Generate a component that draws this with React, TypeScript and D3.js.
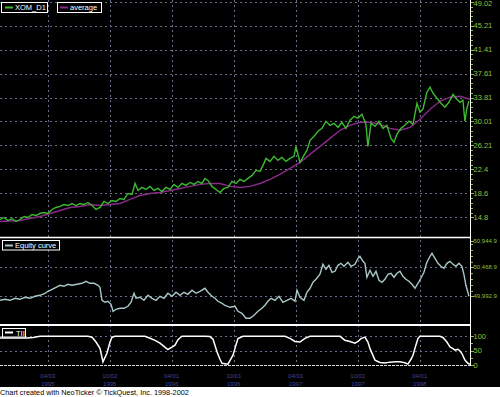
import React from 'react';
import * as d3 from 'd3';

// x values are decimal years
const priceData: [number, number][] = [
  [1994.867, 14.45], [1994.899, 14.77], [1994.931, 14.29], [1994.964, 14.61], [1994.996, 14.13],
  [1995.028, 14.45], [1995.060, 14.93], [1995.092, 14.77], [1995.125, 15.24], [1995.157, 15.08],
  [1995.189, 15.40], [1995.221, 15.56], [1995.253, 15.40], [1995.286, 16.04], [1995.318, 16.36],
  [1995.350, 16.52], [1995.382, 16.83], [1995.414, 16.67], [1995.447, 16.99], [1995.479, 16.67],
  [1995.511, 16.99], [1995.543, 16.83], [1995.575, 17.15], [1995.608, 16.67], [1995.640, 16.04],
  [1995.672, 16.36], [1995.704, 17.31], [1995.736, 16.99], [1995.769, 17.47], [1995.801, 17.31],
  [1995.833, 17.79], [1995.865, 17.63], [1995.897, 18.58], [1995.930, 18.42], [1995.954, 20.17],
  [1995.978, 19.06], [1996.010, 19.54], [1996.042, 19.22], [1996.075, 19.70], [1996.107, 19.06],
  [1996.139, 19.38], [1996.171, 18.90], [1996.203, 19.54], [1996.236, 19.22], [1996.268, 20.02],
  [1996.300, 19.54], [1996.332, 20.17], [1996.364, 19.86], [1996.397, 20.33], [1996.429, 20.02],
  [1996.461, 20.49], [1996.493, 20.17], [1996.517, 20.97], [1996.541, 20.65], [1996.574, 19.70],
  [1996.606, 19.22], [1996.638, 18.74], [1996.670, 19.38], [1996.702, 19.54], [1996.735, 20.49],
  [1996.767, 20.17], [1996.799, 20.81], [1996.831, 20.49], [1996.863, 20.97], [1996.896, 21.45],
  [1996.928, 22.24], [1996.960, 22.08], [1996.992, 23.36], [1997.008, 24.15], [1997.041, 23.67],
  [1997.073, 24.47], [1997.105, 23.83], [1997.137, 24.31], [1997.169, 23.67], [1997.202, 24.15],
  [1997.234, 24.47], [1997.250, 26.06], [1997.282, 23.52], [1997.314, 24.63], [1997.338, 25.42],
  [1997.363, 27.02], [1997.395, 27.65], [1997.427, 28.45], [1997.459, 28.92], [1997.491, 30.04],
  [1997.524, 29.40], [1997.556, 29.72], [1997.588, 29.08], [1997.620, 29.88], [1997.652, 28.92],
  [1997.685, 30.20], [1997.717, 30.83], [1997.749, 30.52], [1997.781, 31.15], [1997.813, 29.56],
  [1997.829, 26.06], [1997.854, 29.72], [1997.886, 29.24], [1997.918, 30.04], [1997.950, 28.92],
  [1997.982, 29.40], [1998.015, 27.33], [1998.039, 26.70], [1998.063, 27.97], [1998.095, 28.92],
  [1998.127, 29.40], [1998.159, 30.04], [1998.192, 29.56], [1998.224, 32.90], [1998.248, 31.47],
  [1998.272, 31.95], [1998.304, 34.65], [1998.329, 35.45], [1998.353, 34.49], [1998.385, 33.70],
  [1998.417, 32.90], [1998.449, 32.27], [1998.481, 33.06], [1998.514, 34.33], [1998.546, 33.54],
  [1998.570, 33.06], [1998.594, 33.38], [1998.610, 30.04], [1998.626, 32.11], [1998.642, 33.22],
];

const averageData: [number, number][] = [
  [1994.867, 14.13], [1995.028, 14.29], [1995.189, 14.93], [1995.270, 15.40], [1995.350, 15.88],
  [1995.431, 16.36], [1995.511, 16.52], [1995.592, 16.83], [1995.672, 16.67], [1995.753, 16.83],
  [1995.833, 16.99], [1995.914, 17.63], [1995.994, 18.26], [1996.075, 18.58], [1996.155, 18.74],
  [1996.236, 19.06], [1996.316, 19.38], [1996.397, 19.70], [1996.477, 20.02], [1996.558, 20.17],
  [1996.638, 20.17], [1996.719, 19.70], [1996.799, 19.54], [1996.880, 19.70], [1996.960, 20.17],
  [1997.041, 20.81], [1997.121, 21.61], [1997.202, 22.56], [1997.283, 23.52], [1997.363, 24.79],
  [1997.444, 26.06], [1997.524, 27.33], [1997.605, 28.61], [1997.685, 29.40], [1997.766, 29.88],
  [1997.846, 29.88], [1997.927, 29.56], [1998.007, 28.92], [1998.088, 28.61], [1998.168, 29.08],
  [1998.249, 30.36], [1998.329, 31.95], [1998.410, 33.22], [1998.490, 33.86], [1998.571, 34.02],
  [1998.651, 33.54],
];

const equityData: [number, number][] = [
  [1994.867, 49927.5], [1994.907, 49943.9], [1994.948, 49927.5], [1994.988, 49960.3], [1995.028, 49943.9],
  [1995.068, 49976.7], [1995.109, 49960.3], [1995.149, 49993.1], [1995.189, 50009.5], [1995.229, 50042.4],
  [1995.253, 50075.2], [1995.286, 50108.0], [1995.318, 50140.8], [1995.350, 50173.6], [1995.382, 50157.2],
  [1995.414, 50190.1], [1995.447, 50173.6], [1995.487, 50190.1], [1995.527, 50206.5], [1995.559, 50239.3],
  [1995.592, 50206.5], [1995.624, 50206.5], [1995.656, 50173.6], [1995.672, 50140.8], [1995.688, 49927.5],
  [1995.712, 49894.7], [1995.736, 49911.1], [1995.761, 49861.9], [1995.777, 49747.0], [1995.801, 49779.8],
  [1995.833, 49796.2], [1995.865, 49796.2], [1995.897, 49829.0], [1995.922, 49894.7], [1995.946, 50042.4],
  [1995.962, 49960.3], [1995.994, 49976.7], [1996.026, 49927.5], [1996.058, 50009.5], [1996.091, 49960.3],
  [1996.123, 49927.5], [1996.155, 49993.1], [1996.187, 49960.3], [1996.219, 50042.4], [1996.252, 49993.1],
  [1996.284, 50058.8], [1996.316, 50009.5], [1996.348, 50058.8], [1996.380, 50026.0], [1996.413, 50091.6],
  [1996.445, 50042.4], [1996.477, 50075.2], [1996.517, 50124.4], [1996.541, 50058.8], [1996.574, 49993.1],
  [1996.598, 49960.3], [1996.622, 49911.1], [1996.654, 49878.3], [1996.678, 49845.4], [1996.719, 49812.6],
  [1996.759, 49829.0], [1996.783, 49747.0], [1996.815, 49714.2], [1996.847, 49632.1], [1996.880, 49632.1],
  [1996.912, 49681.3], [1996.944, 49747.0], [1996.976, 49796.2], [1997.000, 49845.4], [1997.024, 49911.1],
  [1997.049, 49960.3], [1997.081, 49927.5], [1997.113, 49993.1], [1997.145, 49894.7], [1997.177, 49927.5],
  [1997.210, 49960.3], [1997.242, 49911.1], [1997.258, 50091.6], [1997.282, 49976.7], [1997.314, 49927.5],
  [1997.338, 50058.8], [1997.363, 50124.4], [1997.387, 50222.9], [1997.411, 50272.1], [1997.443, 50354.2],
  [1997.467, 50518.3], [1997.491, 50436.2], [1997.515, 50501.8], [1997.540, 50387.0], [1997.564, 50403.4],
  [1997.588, 50501.8], [1997.612, 50534.7], [1997.636, 50485.4], [1997.668, 50551.1], [1997.693, 50485.4],
  [1997.725, 50518.3], [1997.749, 50616.7], [1997.765, 50649.5], [1997.789, 50567.5], [1997.805, 50534.7],
  [1997.821, 50304.9], [1997.846, 50419.8], [1997.870, 50321.3], [1997.894, 50403.4], [1997.918, 50255.7],
  [1997.942, 50222.9], [1997.966, 50272.1], [1997.990, 50354.2], [1998.015, 50370.6], [1998.039, 50304.9],
  [1998.063, 50370.6], [1998.087, 50403.4], [1998.111, 50321.3], [1998.135, 50272.1], [1998.159, 50239.3],
  [1998.184, 50190.1], [1998.208, 50124.4], [1998.232, 50206.5], [1998.256, 50288.6], [1998.280, 50387.0],
  [1998.304, 50551.1], [1998.329, 50649.5], [1998.345, 50698.8], [1998.369, 50616.7], [1998.393, 50534.7],
  [1998.417, 50485.4], [1998.441, 50452.6], [1998.465, 50534.7], [1998.490, 50567.5], [1998.514, 50518.3],
  [1998.538, 50485.4], [1998.562, 50534.7], [1998.586, 50485.4], [1998.602, 50354.2], [1998.618, 50173.6],
  [1998.634, 50058.8], [1998.642, 49993.1],
];

const tiiData: [number, number][] = [
  [1994.867, 94], [1995.084, 94], [1995.133, 96], [1995.189, 100], [1995.575, 100], [1995.608, 97],
  [1995.640, 80], [1995.672, 58], [1995.696, 11], [1995.728, 41], [1995.753, 80], [1995.769, 97],
  [1995.793, 100], [1996.034, 100], [1996.075, 93], [1996.115, 86], [1996.155, 76], [1996.187, 65],
  [1996.219, 54], [1996.252, 62], [1996.276, 69], [1996.300, 88], [1996.332, 100], [1996.517, 100],
  [1996.558, 99], [1996.582, 90], [1996.614, 46], [1996.638, 20], [1996.654, 6], [1996.702, 3],
  [1996.743, 34], [1996.767, 70], [1996.783, 92], [1996.823, 100], [1997.161, 100], [1997.202, 93],
  [1997.242, 82], [1997.282, 80], [1997.322, 93], [1997.363, 100], [1997.605, 100], [1997.644, 86],
  [1997.685, 82], [1997.725, 76], [1997.749, 82], [1997.773, 92], [1997.805, 97], [1997.829, 80],
  [1997.846, 57], [1997.886, 17], [1997.926, 9], [1997.966, 7], [1998.007, 10], [1998.047, 11],
  [1998.087, 11], [1998.127, 8], [1998.151, 3], [1998.176, 20], [1998.192, 34], [1998.216, 70],
  [1998.232, 92], [1998.248, 100], [1998.409, 100], [1998.433, 96], [1998.465, 80], [1998.490, 63],
  [1998.514, 57], [1998.530, 52], [1998.554, 55], [1998.570, 49], [1998.586, 40], [1998.610, 17],
  [1998.634, 6], [1998.651, 2],
];

const priceTicks = [49.02, 45.21, 41.41, 37.61, 33.81, 30.01, 26.21, 22.4, 18.6, 14.8];
const equityTicks = [50944.9, 50468.9, 49992.9];
const equityLabels = ['50,944.9', '50,468.9', '49,992.9'];
const tiiTicks = [100, 50, 0];
const dateTicks = ['1995-04-03', '1995-10-02', '1996-04-01', '1996-10-01', '1997-04-01', '1997-10-01', '1998-04-01'];
const dateLabels = [
  ['04/03', '1995'], ['10/02', '1995'], ['04/01', '1996'], ['10/01', '1996'],
  ['04/01', '1997'], ['10/01', '1997'], ['04/01', '1998'],
];

const W = 500;
const H = 397;
const plotRight = 470;
const font = 'Liberation Sans, Arial, sans-serif';
const gridColor = '#6c6c8c';
const axisText = '#8fc03a';

function yearFrac(s: string) {
  const d = new Date(s + 'T00:00:00Z');
  const y = d.getUTCFullYear();
  const a = Date.UTC(y, 0, 1);
  const b = Date.UTC(y + 1, 0, 1);
  return y + (d.getTime() - a) / (b - a);
}

function minorTicks(ticks: number[], n: number) {
  const out: number[] = [];
  for (let i = 0; i < ticks.length - 1; i++) {
    for (let k = 1; k < n; k++) out.push(ticks[i] + ((ticks[i + 1] - ticks[i]) * k) / n);
  }
  return out;
}

export default function App() {
  const x = d3.scaleLinear().domain([1994.867, 1998.651]).range([0, plotRight]);
  const yPrice = d3.scaleLinear().domain([14.8, 49.02]).range([217.3, 1.7]);
  const yEq = d3.scaleLinear().domain([49992.9, 50944.9]).range([296.3, 238.3]);
  const yTii = d3.scaleLinear().domain([0, 100]).range([365, 336.3]);

  const line = (ys: d3.ScaleLinear<number, number>) =>
    d3.line<[number, number]>().x(d => x(d[0])).y(d => ys(d[1]));

  const xTicks = dateTicks.map(yearFrac);

  const hGrid = [
    ...priceTicks.map(v => yPrice(v)),
    ...equityTicks.slice(1).map(v => yEq(v)),
    ...tiiTicks.slice(0, 2).map(v => yTii(v)),
  ];

  const axisLabels: { y: number; t: string; size: number }[] = [
    ...priceTicks.map(v => ({ y: yPrice(v), t: String(v), size: 7.5 })),
    ...equityTicks.map((v, i) => ({ y: Math.max(yEq(v), 241), t: equityLabels[i], size: 6 })),
    ...tiiTicks.map(v => ({ y: yTii(v), t: String(v), size: 7.5 })),
  ];
  const minors = [
    ...minorTicks(priceTicks, 5).map(v => yPrice(v)),
    ...minorTicks(equityTicks, 5).map(v => yEq(v)),
    ...minorTicks(tiiTicks, 2).map(v => yTii(v)),
  ];

  return (
    <svg width={W} height={H} style={{ position: 'absolute', left: 0, top: 0, display: 'block' }}
      fontFamily={font}>
      <defs>
        <clipPath id="cp1"><rect x={0} y={0} width={plotRight} height={237} /></clipPath>
        <clipPath id="cp2"><rect x={0} y={239} width={plotRight} height={85} /></clipPath>
        <clipPath id="cp3"><rect x={0} y={327} width={plotRight} height={40} /></clipPath>
      </defs>
      <rect x={0} y={0} width={W} height={387} fill="#000" />
      <rect x={0} y={387} width={W} height={H - 387} fill="#fff" />

      {/* grid */}
      <g stroke={gridColor} strokeDasharray="2,3" shapeRendering="crispEdges">
        {xTicks.map((t, i) => (
          <line key={'v' + i} x1={Math.round(x(t)) + 0.5} x2={Math.round(x(t)) + 0.5} y1={0} y2={366} />
        ))}
        {hGrid.map((y, i) => (
          <line key={'h' + i} x1={0} x2={plotRight} y1={Math.round(y) + 0.5} y2={Math.round(y) + 0.5} />
        ))}
      </g>
      <line x1={0} x2={plotRight} y1={365.5} y2={365.5} stroke="#ddd" strokeDasharray="3,1" />

      {/* series */}
      <g clipPath="url(#cp1)" fill="none">
        <path d={line(yPrice)(averageData) || ''} stroke="#8a2a8a" strokeWidth={1.4} />
        <path d={line(yPrice)(priceData) || ''} stroke="#3dbb30" strokeWidth={1.4} />
      </g>
      <g clipPath="url(#cp2)" fill="none">
        <path d={line(yEq)(equityData) || ''} stroke="#a8c8c8" strokeWidth={1.4} />
      </g>
      <g clipPath="url(#cp3)" fill="none">
        <path d={line(yTii)(tiiData) || ''} stroke="#fff" strokeWidth={1.5} />
      </g>

      {/* panel separators and axis */}
      <line x1={0} x2={plotRight} y1={237.5} y2={237.5} stroke="#fff" strokeWidth={1.5} />
      <line x1={0} x2={plotRight} y1={325} y2={325} stroke="#fff" strokeWidth={2} />
      <line x1={plotRight + 0.5} x2={plotRight + 0.5} y1={0} y2={366} stroke="#fff" />
      <g stroke={axisText} shapeRendering="crispEdges">
        {axisLabels.map((d, i) => (
          <line key={'mt' + i} x1={plotRight + 1} x2={plotRight + 4} y1={Math.round(d.y) + 0.5} y2={Math.round(d.y) + 0.5} />
        ))}
        {minors.map((y, i) => (
          <line key={'mn' + i} x1={plotRight + 1} x2={plotRight + 3} y1={Math.round(y) + 0.5} y2={Math.round(y) + 0.5} />
        ))}
      </g>
      <g fill={axisText}>
        {axisLabels.map((d, i) => (
          <text key={'al' + i} x={473.5} y={Math.max(d.y, 3.6)} dy="0.35em" fontSize={d.size}>{d.t}</text>
        ))}
      </g>

      {/* date labels */}
      <g fill="#44449a" fontSize={6} textAnchor="middle">
        {xTicks.map((t, i) => (
          <g key={'dl' + i}>
            <text x={x(t)} y={378}>{dateLabels[i][0]}</text>
            <text x={x(t)} y={386}>{dateLabels[i][1]}</text>
          </g>
        ))}
      </g>

      {/* legends */}
      <g fontSize={7.5} fill="#fff">
        <rect x={1.5} y={2.5} width={46} height={10} fill="#000" stroke="#fff" />
        <line x1={5} x2={13} y1={7.5} y2={7.5} stroke="#3dbb30" strokeWidth={2} />
        <text x={15} y={10.2}>XOM_D1</text>
        <rect x={57.5} y={2.5} width={44} height={10} fill="#000" stroke="#fff" />
        <line x1={60} x2={68} y1={7.5} y2={7.5} stroke="#8a2a8a" strokeWidth={2} />
        <text x={70} y={10.2}>average</text>
        <rect x={2.5} y={240.5} width={57} height={9.5} fill="#000" stroke="#fff" />
        <line x1={5} x2={13} y1={245.5} y2={245.5} stroke="#a8c8c8" strokeWidth={2} />
        <text x={15} y={248.3}>Equity curve</text>
        <rect x={2.5} y={328.5} width={23} height={8.5} fill="#000" stroke="#fff" />
        <line x1={5} x2={13} y1={332.5} y2={332.5} stroke="#fff" strokeWidth={2} />
        <text x={16} y={335.8}>TII</text>
      </g>

      <text x={0} y={395} fontSize={7.3} fill="#000">Chart created with NeoTicker © TickQuest, Inc. 1998-2002</text>
    </svg>
  );
}
